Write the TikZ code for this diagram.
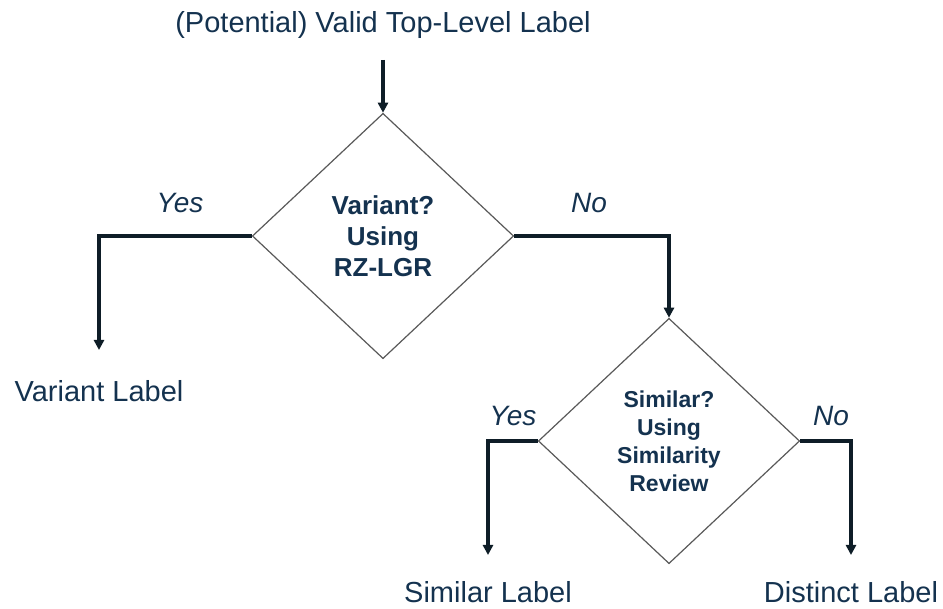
\documentclass[tikz,border=0pt]{standalone}
\usepackage{fontspec}
\setmainfont{Liberation Sans}
\usetikzlibrary{shapes.geometric,arrows.meta,positioning}

\definecolor{labelblue}{HTML}{14324F}
\definecolor{flowdark}{HTML}{0E1D27}

\begin{document}
\begin{tikzpicture}[x=0.75pt, y=-0.75pt,
    every node/.style={text=labelblue, inner sep=0pt},
    outcome/.style={font=\fontsize{21.75}{26}\selectfont, anchor=base},
    answer/.style={font=\fontsize{21}{25}\selectfont\itshape, anchor=base},
    decision/.style={diamond, draw=black!65, line width=0.9pt, align=center,
        minimum width=196pt, minimum height=184pt},
    flow/.style={draw=flowdark, line width=2.9pt, -{Triangle[length=7.5pt,width=7.5pt]}}]
\useasboundingbox (0,0) rectangle (943,609);

% decisions
\node[decision, font=\fontsize{19.5}{23.25}\selectfont\bfseries] (variant) at (383,236)
    {Variant?\\Using\\RZ-LGR};
\node[decision, font=\fontsize{17.25}{21}\selectfont\bfseries] (similar) at (669,441)
    {Similar?\\Using\\Similarity\\Review};

% labels
\node[outcome] (start) at (383,33) {(Potential) Valid Top-Level Label};
\node[outcome] (variantlbl) at (99,402) {Variant Label};
\node[outcome] (similarlbl) at (488,602) {Similar Label};
\node[outcome] (distinctlbl) at (851,602) {Distinct Label};

\node[answer] (yes1) at (180,213) {Yes};
\node[answer] (no1) at (589,213) {No};
\node[answer] (yes2) at (513,426) {Yes};
\node[answer] (no2) at (831,426) {No};

% arrow ends
\coordinate (startend) at (383,60);
\coordinate (variantend) at (99,350);
\coordinate (similarend) at (488,555);
\coordinate (distinctend) at (851,555);

\draw[flow] (startend) -- (variant.north);
\draw[flow] (variant.west) -| (variantend);
\draw[flow] (variant.east) -| (similar.north);
\draw[flow] (similar.west) -| (similarend);
\draw[flow] (similar.east) -| (distinctend);
\end{tikzpicture}
\end{document}
